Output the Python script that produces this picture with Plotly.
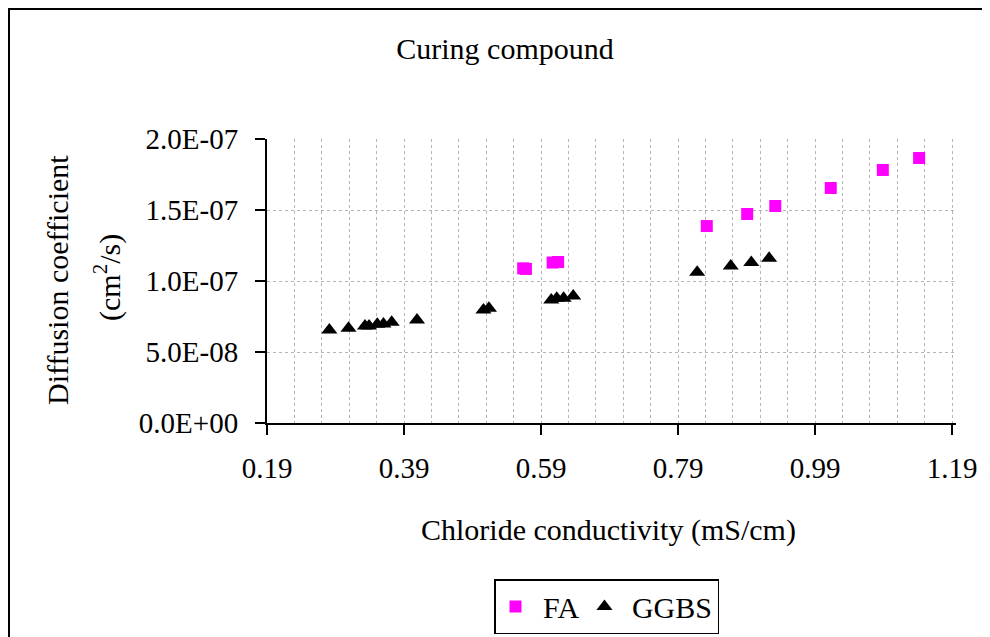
import plotly.graph_objects as go

FA_X = [0.564, 0.568, 0.607, 0.615, 0.832, 0.891, 0.932, 1.013, 1.089, 1.142]
FA_Y = [1.089e-7, 1.085e-7, 1.130e-7, 1.134e-7, 1.387e-7, 1.472e-7, 1.528e-7,
        1.655e-7, 1.782e-7, 1.866e-7]

GGBS_X = [0.281, 0.309, 0.333, 0.339, 0.351, 0.360, 0.372, 0.409, 0.506, 0.514,
          0.605, 0.613, 0.623, 0.637, 0.818, 0.867, 0.897, 0.923]
GGBS_Y = [6.55e-8, 6.67e-8, 6.83e-8, 6.83e-8, 6.95e-8, 6.97e-8, 7.09e-8, 7.25e-8,
          7.96e-8, 8.08e-8, 8.66e-8, 8.78e-8, 8.78e-8, 8.94e-8, 1.061e-7,
          1.106e-7, 1.131e-7, 1.160e-7]

X_TICKS = [0.19, 0.39, 0.59, 0.79, 0.99, 1.19]
X_TICK_TEXT = ["0.19", "0.39", "0.59", "0.79", "0.99", "1.19"]
Y_TICKS = [0, 5e-8, 1e-7, 1.5e-7, 2e-7]
Y_TICK_TEXT = ["0.0E+00", "5.0E-08", "1.0E-07", "1.5E-07", "2.0E-07"]

FONT = "Liberation Serif"
INK = "#000000"
GRID = "#b4b4b4"
MAGENTA = "#ff00ff"
NBSP = "\u00a0"  # widens the gap between legend symbol and label

# the page body adds an 8px margin, so the figure is 8px smaller and every
# page position below is shifted by OFF
OFF = 8
W, H = 990 - OFF, 637 - OFF
# plot area on the page: left 267, right 956, top 139, bottom 423
L, T = 267 - OFF, 139 - OFF
R, B = W - (956 - OFF), H - (423 - OFF)
PW, PH = W - L - R, H - T - B


def px(x):
    return (x - OFF - L) / PW


def py(y):
    return (H - B - (y - OFF)) / PH


fig = go.Figure()
fig.add_trace(go.Scatter(
    x=FA_X, y=FA_Y, mode="markers", name=NBSP + "FA",
    marker=dict(symbol="square", size=12, color=MAGENTA),
))
fig.add_trace(go.Scatter(
    x=GGBS_X, y=GGBS_Y, mode="markers", name=NBSP + "GGBS",
    marker=dict(symbol="triangle-up", size=14, color=INK),
))

fig.update_layout(
    width=W, height=H,
    paper_bgcolor="white", plot_bgcolor="white",
    font=dict(family=FONT, size=29, color=INK),
    margin=dict(l=L, r=R, t=T, b=B),
    title=dict(text="Curing compound", x=(505 - OFF) / W, y=1 - (48 - OFF) / H,
               xref="container", yref="container",
               xanchor="center", yanchor="middle",
               font=dict(family=FONT, size=30, color=INK)),
    showlegend=True,
    legend=dict(orientation="h", xref="container", yref="container",
                x=(494 - OFF) / W, y=1 - (579 - OFF) / H,
                xanchor="left", yanchor="top",
                bordercolor=INK, borderwidth=1.5, bgcolor="white",
                font=dict(family=FONT, size=30, color=INK)),
)

fig.update_xaxes(
    range=[0.19, 0.19 + PW / 685], tickmode="array",
    tickvals=X_TICKS, ticktext=X_TICK_TEXT,
    tickfont=dict(size=29),
    showline=True, linecolor=INK, linewidth=2,
    ticks="outside", ticklen=10, tickwidth=2, tickcolor=INK,
    ticklabelstandoff=8,
    showgrid=True, gridcolor=GRID, gridwidth=1, griddash="dot",
    minor=dict(tick0=0.19, dtick=0.04, showgrid=True, gridcolor=GRID,
               gridwidth=1, griddash="dot", ticks=""),
    zeroline=False,
)
fig.update_yaxes(
    range=[0, 2e-7], tickmode="array",
    tickvals=Y_TICKS, ticktext=Y_TICK_TEXT,
    tickfont=dict(size=29),
    showline=True, linecolor=INK, linewidth=2,
    ticks="outside", ticklen=10, tickwidth=2, tickcolor=INK,
    ticklabelstandoff=11,
    showgrid=True, gridcolor=GRID, gridwidth=1, griddash="dot",
    zeroline=False,
)

# y-axis title, two rotated lines
fig.add_annotation(text="Diffusion coefficient", xref="paper", yref="paper",
                   x=px(57), y=py(280), textangle=-90, showarrow=False,
                   xanchor="center", yanchor="middle", font=dict(size=30))
fig.add_annotation(text="(cm<sup>2</sup>/s)", xref="paper", yref="paper",
                   x=px(107), y=py(278), textangle=-90, showarrow=False,
                   xanchor="center", yanchor="middle", font=dict(size=30))
fig.add_annotation(text="Chloride conductivity (mS/cm)", xref="paper", yref="paper",
                   x=px(608), y=py(530), showarrow=False,
                   xanchor="center", yanchor="middle", font=dict(size=30))

# outer chart border (runs off the right and bottom edges)
fig.add_shape(type="rect", xref="paper", yref="paper",
              x0=px(9), y0=py(660), x1=px(1010), y1=py(9),
              line=dict(color=INK, width=2), layer="above")

fig.write_html("out.html")
